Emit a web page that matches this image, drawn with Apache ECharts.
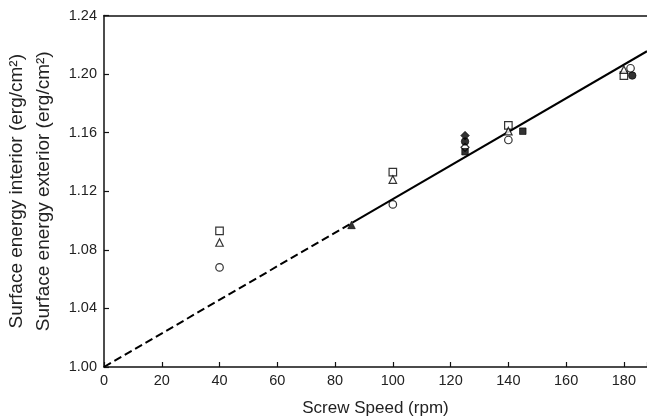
<!DOCTYPE html>
<html>
<head>
<meta charset="utf-8">
<script src="https://cdn.jsdelivr.net/npm/echarts@6/dist/echarts.min.js"></script>
<style>
html,body{margin:0;padding:0;background:#fff;}
#chart{width:647px;height:418px;}
</style>
</head>
<body>
<div id="chart"></div>
<script>
// Axis ticks
const xTicks = [0, 20, 40, 60, 80, 100, 120, 140, 160, 180];
const yTicks = [1.00, 1.04, 1.08, 1.12, 1.16, 1.20, 1.24];

// Fitted line (screw speed, surface energy)
const lineDashedX = [0, 86];
const lineDashedY = [1.000, 1.0986];
const lineSolidX = [86, 188];
const lineSolidY = [1.0986, 1.2156];

// Open symbols
const openSquareX = [40, 100, 140, 180];
const openSquareY = [1.093, 1.133, 1.165, 1.199];
const openTriangleX = [40, 100, 140, 180];
const openTriangleY = [1.085, 1.128, 1.161, 1.203];
const openCircleX = [40, 100, 140, 182.3];
const openCircleY = [1.068, 1.111, 1.155, 1.204];
const openDiamondX = [125];
const openDiamondY = [1.150];

// Filled symbols
const filledTriangleX = [85.7];
const filledTriangleY = [1.097];
const filledSquareX = [125, 145];
const filledSquareY = [1.147, 1.161];
const filledCircleX = [125, 182.9];
const filledCircleY = [1.154, 1.199];
const filledDiamondX = [125];
const filledDiamondY = [1.158];

const zip = (xs, ys) => xs.map((x, i) => [x, ys[i]]);
const FONT = 'Liberation Sans, Arial, Helvetica, sans-serif';
const TXT = '#222';

function scatter(name, symbol, xs, ys, filled, size) {
  return {
    name, type: 'scatter', symbol, symbolSize: size || 7,
    data: zip(xs, ys),
    itemStyle: filled ? {color: '#000', borderColor: '#000', borderWidth: 0.8}
                      : {color: '#fff', borderColor: '#000', borderWidth: 1.2},
    z: 5, silent: true
  };
}

const chart = echarts.init(document.getElementById('chart'), null, {renderer: 'canvas'});
chart.setOption({
  animation: false,
  backgroundColor: '#fff',
  grid: {left: 104, right: 0, top: 15.5, bottom: 51, containLabel: false, outerBoundsMode: 'none'},
  xAxis: [{
    type: 'value', min: 0, max: 188, interval: 20,
    name: 'Screw Speed (rpm)', nameLocation: 'middle', nameGap: 33,
    nameTextStyle: {fontFamily: FONT, fontSize: 17, color: TXT},
    axisLine: {show: true, lineStyle: {color: '#111', width: 1.5}},
    axisTick: {show: true, inside: true, length: 5, lineStyle: {color: '#111', width: 1.2}},
    axisLabel: {fontFamily: FONT, fontSize: 14.5, color: TXT, margin: 6,
      formatter: v => xTicks.includes(v) ? String(v) : ''},
    splitLine: {show: false}
  }, {
    type: 'value', position: 'top', min: 0, max: 188,
    axisLine: {show: true, lineStyle: {color: '#111', width: 1.5}},
    axisTick: {show: false}, axisLabel: {show: false}, splitLine: {show: false}
  }],
  yAxis: {
    type: 'value', min: 1.00, max: 1.24, interval: 0.04,
    name: 'Surface energy interior (erg/cm\u00B2)\nSurface energy exterior (erg/cm\u00B2)',
    nameLocation: 'middle', nameGap: 47, nameRotate: 90,
    nameTextStyle: {fontFamily: FONT, fontSize: 19, color: TXT, lineHeight: 27},
    axisLine: {show: true, lineStyle: {color: '#111', width: 1.5}},
    axisTick: {show: true, inside: true, length: 5, lineStyle: {color: '#111', width: 1.2}},
    axisLabel: {fontFamily: FONT, fontSize: 14.5, color: TXT, margin: 7,
      formatter: v => {
        const m = yTicks.find(t => Math.abs(t - v) < 1e-6);
        return m !== undefined ? m.toFixed(2) : '';
      }},
    splitLine: {show: false}
  },
  series: [
    {type: 'line', data: zip(lineDashedX, lineDashedY), symbol: 'none',
     lineStyle: {color: '#000', width: 2, type: [8, 4]}, silent: true, z: 3},
    {type: 'line', data: zip(lineSolidX, lineSolidY), symbol: 'none',
     lineStyle: {color: '#000', width: 2}, silent: true, z: 3},
    scatter('openSquare', 'rect', openSquareX, openSquareY, false, 7.5),
    scatter('openTriangle', 'triangle', openTriangleX, openTriangleY, false, 7.5),
    scatter('openCircle', 'circle', openCircleX, openCircleY, false, 7.5),
    scatter('openDiamond', 'diamond', openDiamondX, openDiamondY, false, 8),
    scatter('filledTriangle', 'triangle', filledTriangleX, filledTriangleY, true, 7.5),
    scatter('filledSquare', 'rect', filledSquareX, filledSquareY, true, 6.5),
    scatter('filledCircle', 'circle', filledCircleX, filledCircleY, true, 7.5),
    scatter('filledDiamond', 'diamond', filledDiamondX, filledDiamondY, true, 8.5)
  ]
});
</script>
</body>
</html>
